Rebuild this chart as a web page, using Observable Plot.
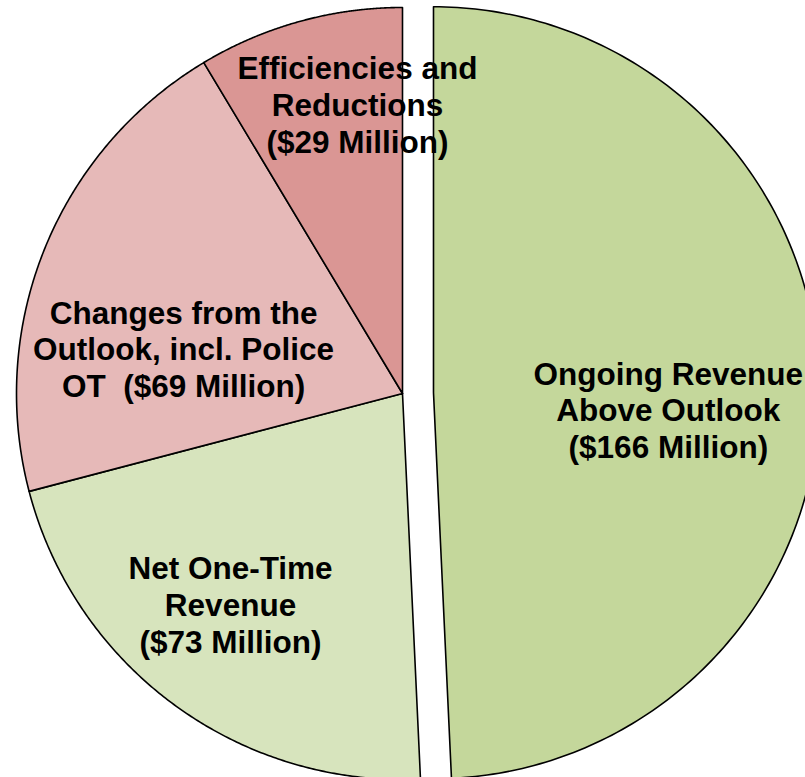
<!DOCTYPE html>
<html>
<head>
<meta charset="utf-8">
<script src="https://cdn.jsdelivr.net/npm/d3@7"></script>
<script src="https://cdn.jsdelivr.net/npm/@observablehq/plot@0.6"></script>
<style>
  html, body { margin: 0; padding: 0; background: #fff; overflow: hidden; }
  #chart svg { display: block; }
</style>
</head>
<body>
<div id="chart"></div>
<script>
// ---- data ----
const categories = [
  "Ongoing Revenue Above Outlook",
  "Net One-Time Revenue",
  "Changes from the Outlook, incl. Police OT",
  "Efficiencies and Reductions"
];
const values = [166, 73, 69, 29];
const labels = [
  "Ongoing Revenue\nAbove Outlook\n($166 Million)",
  "Net One-Time\nRevenue\n($73 Million)",
  "Changes from the\nOutlook, incl. Police\nOT  ($69 Million)",
  "Efficiencies and\nReductions\n($29 Million)"
];
const colors = ["#c4d79b", "#d7e4bd", "#e6b9b8", "#da9694"];

// ---- layout (pixels / polar) ----
const W = 805, H = 777;
const CX = 402, CY = 393, R = 386;       // pie centre and radius in px
const explodePx = [31, 0, 0, 0];        // explode distance per slice
const labelPolar = [                     // [angle deg (clockwise from top), radius fraction]
  [94.1, 0.610], [219.2, 0.705], [281.6, 0.579], [351.15, 0.758]
];

const pie = d3.pie().sort(null).value(d => d)(values);

const pts = [];
const txt = [];
pie.forEach((s, i) => {
  const mid = (s.startAngle + s.endAngle) / 2;
  const ox = explodePx[i] / R * Math.sin(mid);
  const oy = explodePx[i] / R * Math.cos(mid);
  const n = 200;
  pts.push({slice: categories[i], color: colors[i], x: ox, y: oy});
  for (let k = 0; k <= n; k++) {
    const a = s.startAngle + (s.endAngle - s.startAngle) * k / n;
    pts.push({slice: categories[i], color: colors[i], x: ox + Math.sin(a), y: oy + Math.cos(a)});
  }
  pts.push({slice: categories[i], color: colors[i], x: ox, y: oy});
  const la = labelPolar[i][0] * Math.PI / 180, lr = labelPolar[i][1];
  txt.push({label: labels[i], x: ox + lr * Math.sin(la), y: oy + lr * Math.cos(la)});
});

const chart = Plot.plot({
  width: W,
  height: H,
  margin: 0,
  x: {domain: [-CX / R, (W - CX) / R], axis: null},
  y: {domain: [-(H - CY) / R, CY / R], axis: null},
  color: {type: "identity"},
  marks: [
    Plot.line(pts, {
      x: "x", y: "y", z: "slice",
      fill: "color", stroke: "#000", strokeWidth: 1.6,
      strokeLinejoin: "round", curve: "linear", clip: true
    }),
    Plot.text(txt, {
      x: "x", y: "y", text: "label",
      fontSize: 31.5, fontWeight: "bold",
      fontFamily: "'Liberation Sans', Arial, sans-serif",
      lineHeight: 1.165, fill: "#000",
      textAnchor: "middle", lineAnchor: "middle"
    })
  ],
  style: {background: "#fff", overflow: "hidden"}
});
document.getElementById("chart").append(chart);
</script>
</body>
</html>
